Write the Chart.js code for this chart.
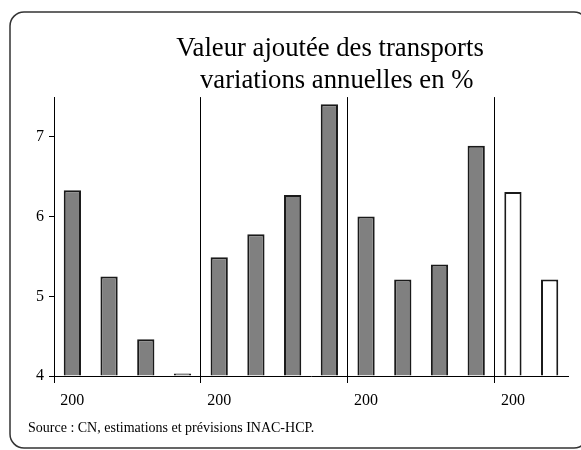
<!DOCTYPE html>
<html lang="fr">
<head>
<meta charset="utf-8">
<title>Valeur ajoutée des transports</title>
<script src="https://cdn.jsdelivr.net/npm/chart.js@4/dist/chart.umd.min.js"></script>
<style>
  html, body { margin: 0; padding: 0; background: #fff; overflow: hidden; }
  #wrap { position: relative; width: 581px; height: 450px; overflow: hidden; }
  #chart { position: absolute; left: 0; top: 0; }
</style>
</head>
<body>
<div id="wrap"><canvas id="chart" width="640" height="450"></canvas></div>
<script>
/* ===== Données ===== */
const annees   = ['200', '', '', '', '200', '', '', '', '200', '', '', '', '200', ''];
const valeurs  = [6.33, 5.25, 4.46, 4.03, 5.49, 5.78, 6.27, 7.41, 6.00, 5.21, 5.40, 6.89, 6.31, 5.21];
const nbPrevisions = 2;            // dernières barres en blanc
const yMin = 4, yMax = 7.5;
const titre = ['Valeur ajoutée des transports', '  variations annuelles en %'];
const source = 'Source : CN, estimations et prévisions INAC-HCP.';

const serif = "'Liberation Serif', 'Times New Roman', serif";
const nbReel = valeurs.length - nbPrevisions;
const fonds = valeurs.map((v, i) => i < nbReel ? '#808080' : '#ffffff');

/* cadre arrondi autour du graphique */
const cadre = {
  id: 'cadre',
  beforeDraw(chart) {
    const c = chart.ctx;
    c.save();
    c.fillStyle = '#fff';
    c.fillRect(0, 0, chart.width, chart.height);
    c.strokeStyle = '#333';
    c.lineWidth = 1.5;
    c.beginPath();
    c.roundRect(10, 12, 578, 436, 14);
    c.stroke();
    c.restore();
  }
};

new Chart(document.getElementById('chart'), {
  type: 'bar',
  data: {
    labels: annees,
    datasets: [{
      data: valeurs,
      base: yMin,
      backgroundColor: fonds,
      borderColor: '#1a1a1a',
      borderWidth: 2,
      barPercentage: 0.47,
      categoryPercentage: 1
    }]
  },
  options: {
    responsive: false,
    animation: false,
    layout: { padding: { left: 28, right: 8, top: 0, bottom: 0 } },
    plugins: {
      legend: { display: false },
      tooltip: { enabled: false },
      title: {
        display: true,
        text: titre,
        color: '#000',
        font: { family: serif, size: 26.7, weight: 'normal', lineHeight: 1.2 },
        padding: { top: 33, bottom: 0 }
      },
      subtitle: {
        display: true,
        position: 'bottom',
        align: 'start',
        text: source,
        color: '#000',
        font: { family: serif, size: 14, weight: 'normal', lineHeight: 1.2 },
        padding: { top: 2, bottom: 13 }
      }
    },
    scales: {
      x: {
        grid: {
          offset: true,
          drawOnChartArea: true,
          tickLength: 7,
          lineWidth: 1,
          color: ctx => (ctx.index % 4 === 0 && ctx.index < valeurs.length) ? '#000' : 'rgba(0,0,0,0)'
        },
        border: { display: true, color: '#000', width: 1 },
        ticks: {
          autoSkip: false, maxRotation: 0, padding: 8, color: '#000',
          font: { family: serif, size: 16 }
        }
      },
      y: {
        min: yMin, max: yMax,
        grid: { drawOnChartArea: false, tickLength: 5, color: '#000' },
        border: { display: true, color: '#000', width: 1 },
        ticks: {
          stepSize: 1, includeBounds: false, padding: 5, color: '#000',
          font: { family: serif, size: 16 }
        },
        afterFit: s => { s.width = 26; }
      },
      vide: {
        position: 'right',
        display: true,
        grid: { display: false },
        border: { display: false },
        ticks: { display: false },
        afterFit: s => { s.width = 64; }
      }
    }
  },
  plugins: [cadre]
});
</script>
</body>
</html>
